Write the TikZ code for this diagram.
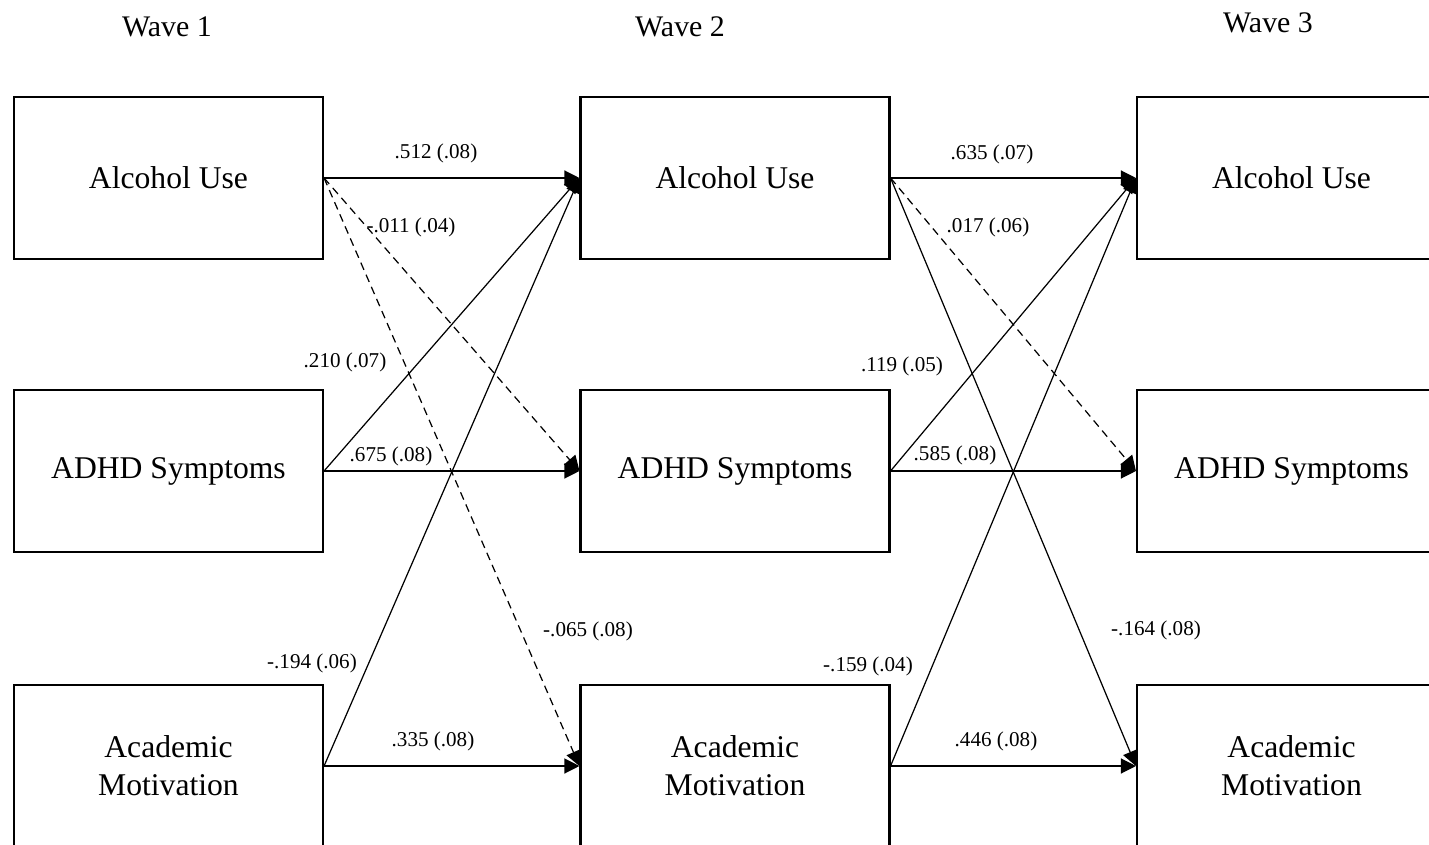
\documentclass[tikz,border=0pt]{standalone}
\usepackage{fontspec}
\setmainfont{Liberation Serif}
\usepackage{tikz}
\usetikzlibrary{arrows.meta, positioning}

\begin{document}
\begin{tikzpicture}[
  var/.style={rectangle, draw, line width=1.2pt, minimum width=6.18cm, minimum height=3.24cm,
              align=center, font=\fontsize{18}{21.6}\selectfont},
  wave/.style={font=\fontsize{17}{20}\selectfont},
  arr/.style={-{Triangle[length=3mm, width=3mm]}, line width=0.7pt},
  nsarr/.style={arr, dash pattern=on 4.5pt off 3pt},
  lbl/.style={font=\fontsize{12}{14}\selectfont},
]
  \clip (0,0) rectangle (28.58,16.88);

  % wave headings
  \node[wave] (w1) at (3.34,16.34)  {Wave 1};
  \node[wave] (w2) at (13.60,16.34) {Wave 2};
  \node[wave] (w3) at (25.36,16.42) {Wave 3};

  % Wave 1
  \node[var] (a1) at (3.37,13.32) {Alcohol Use};
  \node[var] (d1) at (3.37,7.46)  {ADHD Symptoms};
  \node[var] (m1) at (3.37,1.56)  {Academic\\Motivation};
  % Wave 2
  \node[var] (a2) at (14.70,13.32) {Alcohol Use};
  \node[var] (d2) at (14.70,7.46)  {ADHD Symptoms};
  \node[var] (m2) at (14.70,1.56)  {Academic\\Motivation};
  % Wave 3
  \node[var] (a3) at (25.83,13.32) {Alcohol Use};
  \node[var] (d3) at (25.83,7.46)  {ADHD Symptoms};
  \node[var] (m3) at (25.83,1.56)  {Academic\\Motivation};

  % paths wave 1 -> wave 2
  \draw[arr]   (a1.east) -- (a2.west);
  \draw[nsarr] (a1.east) -- (d2.west);
  \draw[nsarr] (a1.east) -- (m2.west);
  \draw[arr]   (d1.east) -- (a2.west);
  \draw[arr]   (d1.east) -- (d2.west);
  \draw[arr]   (m1.east) -- (a2.west);
  \draw[arr]   (m1.east) -- (m2.west);

  % paths wave 2 -> wave 3
  \draw[arr]   (a2.east) -- (a3.west);
  \draw[nsarr] (a2.east) -- (d3.west);
  \draw[arr]   (a2.east) -- (m3.west);
  \draw[arr]   (d2.east) -- (a3.west);
  \draw[arr]   (d2.east) -- (d3.west);
  \draw[arr]   (m2.east) -- (a3.west);
  \draw[arr]   (m2.east) -- (m3.west);

  % estimates (SE)
  \node[lbl] (l1)  at (8.72,13.82)  {.512 (.08)};
  \node[lbl] (l2)  at (8.22,12.34)  {-.011 (.04)};
  \node[lbl] (l3)  at (6.90,9.64)   {.210 (.07)};
  \node[lbl] (l4)  at (7.82,7.76)   {.675 (.08)};
  \node[lbl] (l5)  at (11.76,4.26)  {-.065 (.08)};
  \node[lbl] (l6)  at (6.24,3.62)   {-.194 (.06)};
  \node[lbl] (l7)  at (8.66,2.06)   {.335 (.08)};
  \node[lbl] (l8)  at (19.84,13.80) {.635 (.07)};
  \node[lbl] (l9)  at (19.76,12.34) {.017 (.06)};
  \node[lbl] (l10) at (18.04,9.56)  {.119 (.05)};
  \node[lbl] (l11) at (19.10,7.78)  {.585 (.08)};
  \node[lbl] (l12) at (23.12,4.28)  {-.164 (.08)};
  \node[lbl] (l13) at (17.36,3.56)  {-.159 (.04)};
  \node[lbl] (l14) at (19.92,2.06)  {.446 (.08)};
\end{tikzpicture}
\end{document}
